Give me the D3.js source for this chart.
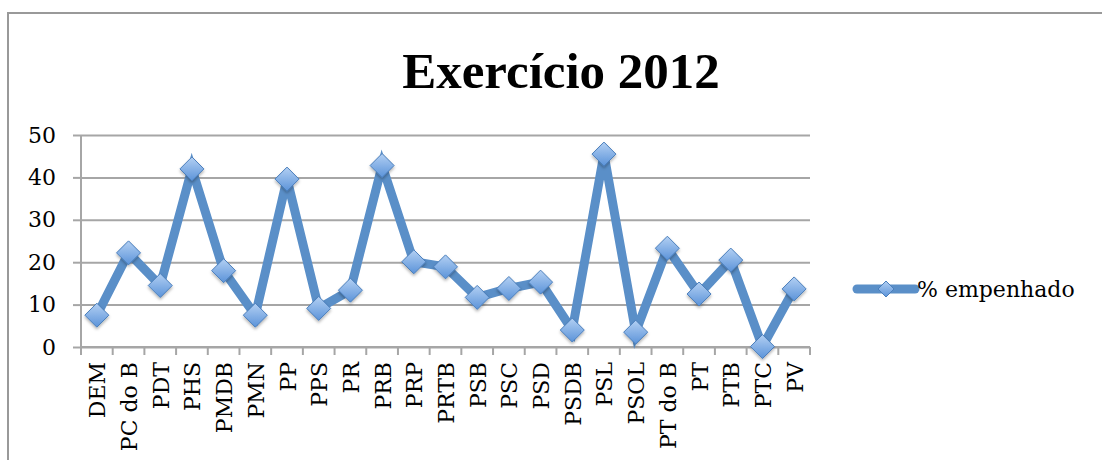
<!DOCTYPE html>
<html>
<head>
<meta charset="utf-8">
<script src="https://cdn.jsdelivr.net/npm/d3@7"></script>
<style>
  body { margin: 0; background: #fff; }
  svg { display: block; }
</style>
</head>
<body>
<div id="chart"></div>
<script>
// data
const partidos = ["DEM", "PC do B", "PDT", "PHS", "PMDB", "PMN", "PP", "PPS", "PR", "PRB", "PRP",
    "PRTB", "PSB", "PSC", "PSD", "PSDB", "PSL", "PSOL", "PT do B", "PT", "PTB", "PTC", "PV"];
const empenhado = [7.5, 22.2, 14.5, 42, 18, 7.5, 39.6, 9.1, 13.4, 42.8, 20.1,
    18.9, 11.7, 13.8, 15.3, 4.0, 45.5, 3.5, 23.3, 12.5, 20.5, 0.1, 13.7];
const yTicks = [0, 10, 20, 30, 40, 50];
const serieNome = "% empenhado";
const titulo = "Exercício 2012";

const W = 1102, H = 460;
const margin = { top: 135, left: 81, right: 292, bottom: 113 };
const width = W - margin.left - margin.right;
const height = H - margin.top - margin.bottom;
const font = "'DejaVu Serif', 'Liberation Serif', serif";
const titleFont = "'Liberation Serif', serif";
const lineColor = "#5a8fc8";

const svgRoot = d3.select("#chart").append("svg")
    .attr("width", W)
    .attr("height", H);

const defs = svgRoot.append("defs");
const grad = defs.append("linearGradient")
    .attr("id", "mk")
    .attr("x1", 0).attr("y1", 0).attr("x2", 0).attr("y2", 1);
grad.append("stop").attr("offset", "0%").attr("stop-color", "#b3d0f3");
grad.append("stop").attr("offset", "100%").attr("stop-color", "#5b93d9");

const shadow = defs.append("filter").attr("id", "sh")
    .attr("x", "-50%").attr("y", "-50%").attr("width", "200%").attr("height", "200%");
shadow.append("feDropShadow")
    .attr("dx", 0).attr("dy", 2).attr("stdDeviation", 1.5)
    .attr("flood-color", "#000").attr("flood-opacity", 0.3);

// outer frame
svgRoot.append("rect")
    .attr("x", 8).attr("y", 13)
    .attr("width", W + 10).attr("height", H + 10)
    .attr("fill", "none")
    .attr("stroke", "#999")
    .attr("stroke-width", 2);

// title
svgRoot.append("text")
    .attr("x", 561)
    .attr("y", 88)
    .attr("text-anchor", "middle")
    .style("font-family", titleFont)
    .style("font-weight", "bold")
    .style("font-size", "51px")
    .text(titulo);

const svg = svgRoot.append("g")
    .attr("transform", `translate(${margin.left}, ${margin.top})`);

const x = d3.scaleBand()
    .domain(partidos)
    .range([0, width]);

const y = d3.scaleLinear()
    .domain([0, 50])
    .range([height, 0]);

// gridlines
svg.append("g")
    .call(d3.axisLeft(y)
        .tickValues(yTicks)
        .tickSize(-width)
        .tickFormat(''))
    .call(g => g.select(".domain").remove())
    .selectAll("line")
    .style("stroke", "#a6a6a6")
    .style("stroke-width", "2px");

// y axis
const yAxis = svg.append("g")
    .call(d3.axisLeft(y)
        .tickValues(yTicks)
        .tickSize(8)
        .tickPadding(17));
yAxis.selectAll("path, line")
    .style("stroke", "#a6a6a6")
    .style("stroke-width", "2px");
yAxis.select(".domain").attr("d", `M0,${height}V0`);
yAxis.selectAll("text")
    .style("font-family", font)
    .style("font-size", "22px")
    .attr("fill", "#000");

// x axis, ticks between categories
const xAxis = svg.append("g")
    .attr("transform", `translate(0, ${height})`);
xAxis.append("line")
    .attr("x1", 0).attr("x2", width)
    .style("stroke", "#a6a6a6")
    .style("stroke-width", "2px");
xAxis.selectAll(".sep")
    .data(partidos.concat([null]))
    .enter().append("line")
    .attr("class", "sep")
    .attr("x1", (d, i) => i * x.step())
    .attr("x2", (d, i) => i * x.step())
    .attr("y1", 0).attr("y2", 8)
    .style("stroke", "#a6a6a6")
    .style("stroke-width", "2px");
xAxis.selectAll(".lab")
    .data(partidos)
    .enter().append("text")
    .attr("class", "lab")
    .attr("transform", d => `translate(${x(d) + x.bandwidth() / 2 + 8.5}, 15) rotate(-90)`)
    .attr("text-anchor", "end")
    .style("font-family", font)
    .style("font-size", "22px")
    .text(d => d);

// line
const pts = partidos.map((p, i) => ({ p: p, v: empenhado[i] }));
const line = d3.line()
    .x(d => x(d.p) + x.bandwidth() / 2)
    .y(d => y(d.v));

svg.append("path")
    .datum(pts)
    .attr("fill", "none")
    .attr("stroke", lineColor)
    .attr("stroke-width", 9)
    .attr("stroke-linejoin", "miter")
    .attr("d", line);

// diamonds
const dm = 12;
svg.selectAll(".mk")
    .data(pts)
    .enter().append("path")
    .attr("class", "mk")
    .attr("transform", d => `translate(${x(d.p) + x.bandwidth() / 2}, ${y(d.v)})`)
    .attr("d", `M0,${-dm}L${dm},0L0,${dm}L${-dm},0Z`)
    .attr("fill", "url(#mk)")
    .attr("stroke", "#4a7ebb")
    .attr("stroke-width", 1)
    .attr("filter", "url(#sh)");

// legend
const lg = svgRoot.append("g").attr("transform", "translate(857, 289)");
lg.append("line")
    .attr("x1", 0).attr("x2", 58)
    .attr("stroke", lineColor)
    .attr("stroke-width", 9)
    .attr("stroke-linecap", "round");
lg.append("path")
    .attr("transform", "translate(29, 0)")
    .attr("d", "M0,-8L8,0L0,8L-8,0Z")
    .attr("fill", "url(#mk)")
    .attr("stroke", "#4a7ebb")
    .attr("stroke-width", 1);
lg.append("text")
    .attr("x", 60)
    .attr("y", 8)
    .style("font-family", font)
    .style("font-size", "22px")
    .text(serieNome);
</script>
</body>
</html>
